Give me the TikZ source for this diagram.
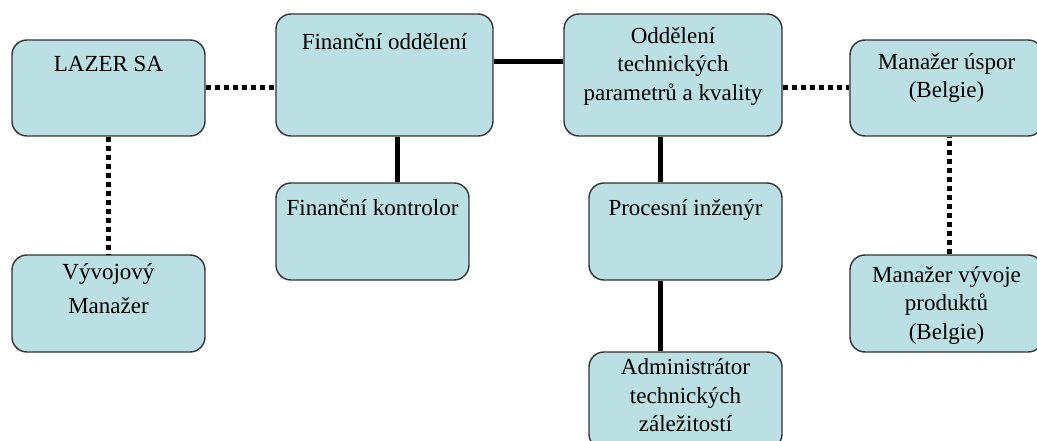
\documentclass[tikz,border=0pt]{standalone}
\usepackage{fontspec}
\setmainfont{Liberation Serif}
\definecolor{boxfill}{HTML}{BAE0E3}
\definecolor{boxline}{HTML}{333333}
\newcommand{\orgtext}[4]{\parbox[c][#2][t]{#1}{\centering\vspace*{#3}#4\par}}
\begin{document}
\begin{tikzpicture}[x=1pt,y=-1pt,
  orgbox/.style={draw=boxline, line width=1.4pt, fill=boxfill, rounded corners=15pt,
    inner sep=0pt, font=\fontsize{23}{28.5}\selectfont},
  solidlink/.style={line width=5pt, black},
  dotlink/.style={line width=5pt, black, dash pattern=on 5pt off 4pt}]
\useasboundingbox (0,0) rectangle (1037,441);
\fill[white] (0,0) rectangle (1037,441);
\clip (0,0) rectangle (1037,441);
% nodes
\node[orgbox] (lazer) at (108.5,88) {\orgtext{193pt}{96pt}{16pt}{LAZER SA}};
\node[orgbox] (fin) at (384.5,75) {\orgtext{217pt}{122pt}{19pt}{Finanční oddělení}};
\node[orgbox] (kontr) at (372.5,231.5) {\orgtext{193pt}{97pt}{16pt}{Finanční kontrolor}};
\node[orgbox] (vyvoj) at (108.5,303.5) {\orgtext{193pt}{97pt}{9pt}{Vývojový\\[5pt]Manažer}};
\node[orgbox] (odd) at (673,75) {\orgtext{218pt}{122pt}{13pt}{Oddělení\\technických\\parametrů a kvality}};
\node[orgbox] (uspor) at (946.5,88) {\orgtext{193pt}{96pt}{13pt}{Manažer úspor\\(Belgie)}};
\node[orgbox] (proces) at (685.5,231.5) {\orgtext{193pt}{97pt}{16pt}{Procesní inženýr}};
\node[orgbox] (admin) at (685.5,400.5) {\orgtext{193pt}{97pt}{7pt}{Administrátor\\technických\\záležitostí}};
\node[orgbox] (mvp) at (946.5,303.5) {\orgtext{193pt}{97pt}{11pt}{Manažer vývoje\\produktů\\(Belgie)}};
% connectors
\draw[dotlink] (lazer.east) -- (lazer.east -| fin.west);
\draw[solidlink] ([yshift=13pt]fin.east) -- ([yshift=13pt]fin.east -| odd.west);
\draw[dotlink] (uspor.west -| odd.east) -- (uspor.west);
\draw[dotlink] (lazer.south) -- (vyvoj.north);
\draw[solidlink] ([xshift=24.5pt]kontr.north) -- ([xshift=24.5pt]kontr.north |- fin.south);
\draw[solidlink] ([xshift=-25.5pt]proces.north) -- ([xshift=-25.5pt]proces.north |- odd.south);
\draw[solidlink] ([xshift=-25.5pt]admin.north) -- ([xshift=-25.5pt]admin.north |- proces.south);
\draw[dotlink] ([xshift=2.5pt]mvp.north) -- ([xshift=2.5pt]mvp.north |- uspor.south);
\end{tikzpicture}
\end{document}
